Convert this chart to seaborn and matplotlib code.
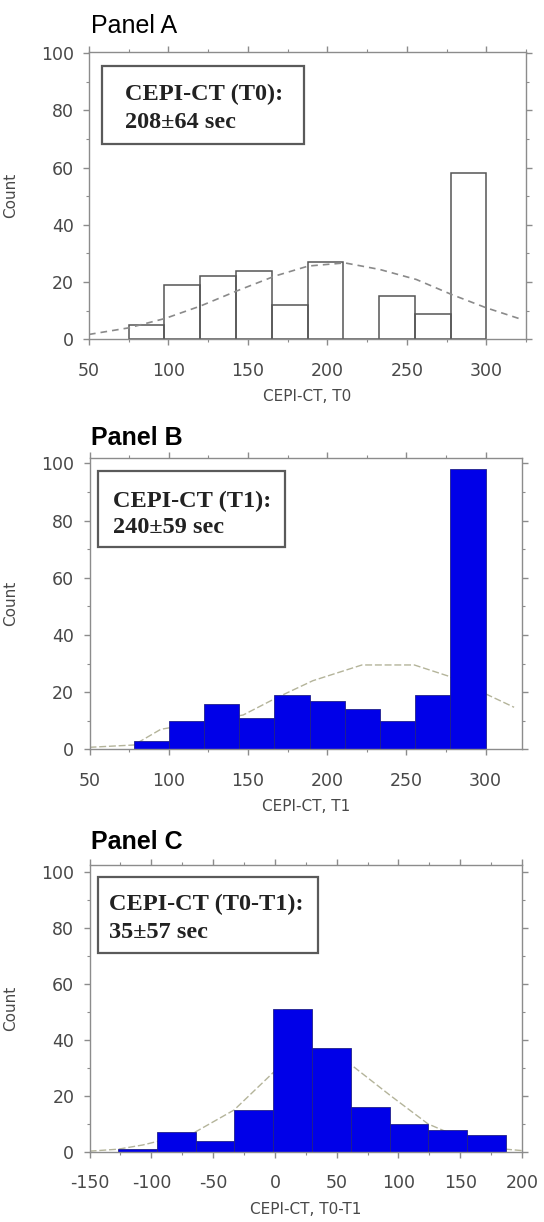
import matplotlib
matplotlib.use("Agg")
import matplotlib.pyplot as plt
import matplotlib.patches as mpatches
from matplotlib.ticker import MultipleLocator
import seaborn as sns


# Data

# Panel A: CEPI-CT at T0 (open bars)
a_edges = [75, 97.5, 120, 142.5, 165, 187.5, 210, 232.5, 255, 277.5, 300]
a_counts = [5, 19, 22, 24, 12, 27, 0, 15, 9, 58]
a_curve_x = [50, 75, 98, 120, 143, 167, 188, 211, 233, 256, 278, 300, 322]
a_curve_y = [1.7, 4.0, 7.3, 11.6, 16.9, 22.1, 25.6, 26.7, 24.4, 20.9, 15.7, 11.0, 7.0]

# Panel B: CEPI-CT at T1
b_edges = [77.8, 100, 122.2, 144.4, 166.7, 188.9, 211.1, 233.3, 255.6, 277.8, 300]
b_counts = [3, 10, 16, 11, 19, 17, 14, 10, 19, 98]
b_curve_x = [50, 78, 95, 147, 168, 191, 222, 255, 276, 300, 318]
b_curve_y = [0.7, 1.5, 7.0, 12.0, 18.0, 24.0, 29.5, 29.5, 25.7, 19.4, 14.7]

# Panel C: difference T0-T1
c_edges = [-127, -95.6, -64.2, -32.8, -1.4, 30, 61.4, 92.8, 124.2, 155.6, 187]
c_counts = [1, 7, 4, 15, 51, 37, 16, 10, 8, 6]
c_curve_x = [-150, -127, -107, -65, -33, -1, 30, 62, 93, 124, 156, 187, 200]
c_curve_y = [0.3, 1.0, 2.5, 7.0, 15.0, 28.5, 34.0, 31.0, 20.3, 10.0, 4.0, 1.0, 0.5]

panel_titles = ["Panel A", "Panel B", "Panel C"]
x_labels = ["CEPI-CT, T0", "CEPI-CT, T1", "CEPI-CT, T0-T1"]
box_line1 = ["CEPI-CT (T0):", "CEPI-CT (T1):", "CEPI-CT (T0-T1):"]
box_line2 = ["208\u00b164 sec", "240\u00b159 sec", "35\u00b157 sec"]


# Figure layout (pixel boxes of the reference)

W, H = 544, 1222
sns.set_theme(style="ticks")
plt.rcParams["font.family"] = ["DejaVu Sans"]
plt.rcParams["axes.unicode_minus"] = False

fig = plt.figure(figsize=(W / 100, H / 100), dpi=100)
fig.patch.set_facecolor("white")


def px_rect(l, t, r, b):
    return [l / W, 1 - b / H, (r - l) / W, (b - t) / H]


panels = [
    dict(rect=px_rect(89, 51.7, 526, 339.3), xlim=(50, 325), ylim=(0, 100.5),
         xmajor=50, xminor=25, title_y=33, bold=False,
         box=(0.030, 0.679, 0.492, 0.950), tx=0.082, ty=(0.832, 0.734)),
    dict(rect=px_rect(89.5, 457.7, 522, 749.3), xlim=(50, 323), ylim=(0, 102),
         xmajor=50, xminor=25, title_y=445, bold=True,
         box=(0.019, 0.695, 0.451, 0.955), tx=0.054, ty=(0.831, 0.742)),
    dict(rect=px_rect(89.6, 865, 522, 1152), xlim=(-150, 200), ylim=(0, 102.4),
         xmajor=50, xminor=25, title_y=849, bold=True,
         box=(0.019, 0.694, 0.529, 0.959), tx=0.046, ty=(0.843, 0.746)),
]

hist_data = [(a_edges, a_counts), (b_edges, b_counts), (c_edges, c_counts)]
curves = [(a_curve_x, a_curve_y), (b_curve_x, b_curve_y), (c_curve_x, c_curve_y)]

for i, p in enumerate(panels):
    ax = fig.add_axes(p["rect"])
    edges, counts = hist_data[i]
    centers = [(edges[k] + edges[k + 1]) / 2 for k in range(len(counts))]
    cx, cy = curves[i]

    if i == 0:
        sns.histplot(x=centers, weights=counts, bins=edges, fill=False,
                     color="#555555", linewidth=1.1, ax=ax)
        sns.lineplot(x=cx, y=cy, color="#8a8a8a", linewidth=1.2, ax=ax, zorder=3)
        ax.lines[-1].set_dashes([4, 3])
    else:
        sns.lineplot(x=cx, y=cy, color="#b4b49a", linewidth=1.0, ax=ax, zorder=0.5)
        ax.lines[-1].set_dashes([5, 2])
        sns.histplot(x=centers, weights=counts, bins=edges, color="#0000e8",
                     alpha=1, edgecolor="#20208a", linewidth=0.6, ax=ax)

    ax.set_xlim(*p["xlim"])
    ax.set_ylim(*p["ylim"])
    ax.xaxis.set_major_locator(MultipleLocator(p["xmajor"]))
    ax.xaxis.set_minor_locator(MultipleLocator(p["xminor"]))
    ax.yaxis.set_major_locator(MultipleLocator(20))
    ax.yaxis.set_minor_locator(MultipleLocator(10))

    for sp in ax.spines.values():
        sp.set_visible(True)
        sp.set_color("#8c8c8c")
        sp.set_linewidth(1.0)
    ax.tick_params(which="both", direction="out", color="#8c8c8c",
                   top=True, right=True, labelsize=12.5, labelcolor="#484848")
    ax.tick_params(which="major", length=4, width=1)
    ax.tick_params(which="minor", length=2.5, width=0.8)
    ax.tick_params(axis="x", pad=12)
    ax.tick_params(axis="y", pad=7)

    ax.set_xlabel(x_labels[i], fontsize=11, color="#484848")
    ax.set_ylabel("Count", fontsize=11, color="#484848")
    ax_h = p["rect"][3] * H
    ax_w = p["rect"][2] * W
    ax.xaxis.set_label_coords(0.5, -50 / ax_h)
    ax.yaxis.set_label_coords(-(p["rect"][0] * W - 18) / ax_w, 0.5)

    # text box
    x0, y0, x1, y1 = p["box"]
    ax.add_patch(mpatches.Rectangle((x0, y0), x1 - x0, y1 - y0, transform=ax.transAxes,
                                    fill=False, edgecolor="#5a5a5a", linewidth=1.6,
                                    zorder=5, clip_on=False))
    for line, yy in zip([box_line1[i], box_line2[i]], p["ty"]):
        ax.text(p["tx"], yy, line, transform=ax.transAxes, fontsize=17.5,
                fontweight="bold", family="Liberation Serif", color="#222222",
                ha="left", va="baseline", zorder=6)

    fig.text(91 / W, 1 - p["title_y"] / H, panel_titles[i], fontsize=18,
             family="Liberation Sans", fontweight="bold" if p["bold"] else "normal",
             color="black", ha="left", va="baseline")

fig.savefig("out.png", dpi=100)
